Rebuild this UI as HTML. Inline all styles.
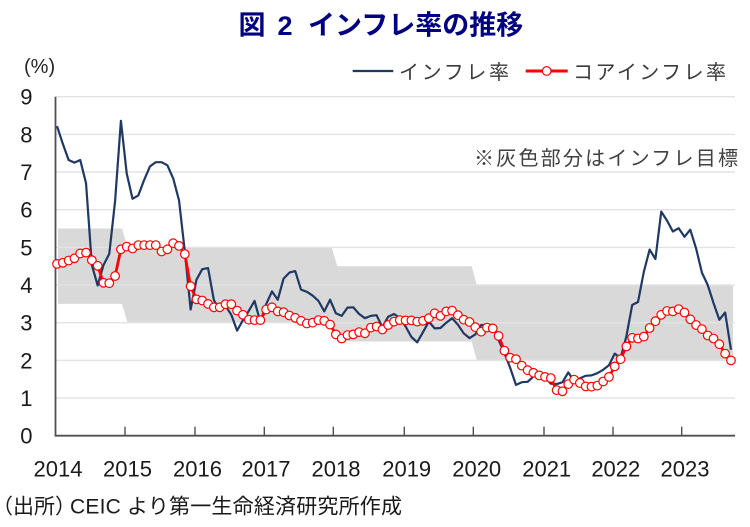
<!DOCTYPE html>
<html>
<head>
<meta charset="utf-8">
<style>
html,body{margin:0;padding:0;background:#fff;}
svg{display:block;}
.num{font-family:"Liberation Sans",sans-serif;font-size:22px;fill:#1a1a1a;}
.jp{font-family:"Liberation Sans","Noto Sans CJK JP",sans-serif;}
</style>
</head>
<body>
<svg width="750" height="527" viewBox="0 0 750 527" xmlns="http://www.w3.org/2000/svg">
<rect x="0" y="0" width="750" height="527" fill="#fff"/>

<!-- target band -->
<polygon fill="#D9D9D9" points="58,228.5 122,228.5 127.5,247.4 331.7,247.4 337.3,266.2 471.7,266.2 476.7,285 733,285 733,360.4 476.7,360.4 471.7,341.5 337.3,341.5 331.7,322.7 127.5,322.7 122,303.9 58,303.9"/>

<!-- gridlines -->
<g stroke="#E3E3E3" stroke-width="1.4">
<line x1="55.5" y1="398.0" x2="735" y2="398.0"/>
<line x1="55.5" y1="360.4" x2="735" y2="360.4"/>
<line x1="55.5" y1="322.7" x2="735" y2="322.7"/>
<line x1="55.5" y1="285.0" x2="735" y2="285.0"/>
<line x1="55.5" y1="247.4" x2="735" y2="247.4"/>
<line x1="55.5" y1="209.7" x2="735" y2="209.7"/>
<line x1="55.5" y1="172.0" x2="735" y2="172.0"/>
<line x1="55.5" y1="134.4" x2="735" y2="134.4"/>
<line x1="55.5" y1="96.7" x2="735" y2="96.7"/>
</g>

<!-- axes -->
<g stroke="#505050" stroke-width="1.8" fill="none">
<line x1="55.5" y1="96.7" x2="55.5" y2="436.5"/>
<line x1="54.6" y1="435.7" x2="735" y2="435.7"/>
</g>
<g stroke="#505050" stroke-width="1.4">
<line x1="125" y1="426.7" x2="125" y2="435.7"/>
<line x1="195" y1="426.7" x2="195" y2="435.7"/>
<line x1="264.3" y1="426.7" x2="264.3" y2="435.7"/>
<line x1="333.3" y1="426.7" x2="333.3" y2="435.7"/>
<line x1="404.3" y1="426.7" x2="404.3" y2="435.7"/>
<line x1="473.3" y1="426.7" x2="473.3" y2="435.7"/>
<line x1="544" y1="426.7" x2="544" y2="435.7"/>
<line x1="613" y1="426.7" x2="613" y2="435.7"/>
<line x1="681.7" y1="426.7" x2="681.7" y2="435.7"/>
</g>

<!-- headline inflation -->
<polyline fill="none" stroke="#1F3864" stroke-width="2.2" stroke-linejoin="round" points="57.00,126.1 62.81,143.8 68.62,160.0 74.43,162.6 80.24,160.0 86.05,183.3 91.86,265.1 97.67,285.4 103.48,265.1 109.29,253.8 115.10,201.0 120.91,120.8 126.72,173.5 132.53,198.8 138.34,195.4 144.15,179.9 149.96,166.4 155.77,162.2 161.58,162.2 167.39,165.3 173.20,178.4 179.01,200.3 184.82,251.5 190.63,309.5 196.44,279.8 202.25,269.2 208.06,268.1 213.87,300.1 219.68,310.3 225.49,305.8 231.30,314.8 237.11,330.6 242.92,320.1 248.73,311.0 254.54,300.9 260.35,322.0 266.16,304.2 271.97,291.4 277.78,299.7 283.59,278.6 289.40,272.6 295.21,271.1 301.02,289.6 306.83,291.8 312.64,295.6 318.45,300.9 324.26,311.4 330.07,299.7 335.88,313.3 341.69,315.9 347.50,307.6 353.31,307.3 359.12,314.0 364.93,318.2 370.74,315.9 376.55,315.2 382.36,327.2 388.17,316.7 393.98,314.0 399.79,317.8 405.60,326.5 411.41,337.0 417.22,342.3 423.03,332.1 428.84,321.6 434.65,328.4 440.46,328.0 446.27,322.7 452.08,318.2 457.89,324.6 463.70,333.3 469.51,338.1 475.32,334.4 481.13,325.0 486.94,325.0 492.75,325.0 498.56,340.0 504.37,352.8 510.18,367.9 515.99,384.9 521.80,382.2 527.61,381.8 533.42,376.6 539.23,372.4 545.04,377.3 550.85,383.7 556.66,384.1 562.47,382.2 568.28,372.4 574.09,381.1 579.90,378.4 585.71,375.8 591.52,375.4 597.33,373.2 603.14,369.8 608.95,365.3 614.76,353.6 620.57,358.1 626.38,336.3 632.19,305.0 638.00,302.0 643.81,271.9 649.62,249.6 655.43,259.0 661.24,211.6 667.05,220.6 672.86,231.5 678.67,228.2 684.48,236.8 690.29,229.7 696.10,248.5 701.91,272.6 707.72,285.0 713.53,303.1 719.34,319.7 725.15,312.5 730.96,349.8"/>

<!-- core inflation line -->
<polyline fill="none" stroke="#FF0000" stroke-width="2.8" stroke-linejoin="round" points="57.00,263.9 62.81,262.8 68.62,260.5 74.43,258.3 80.24,253.4 86.05,252.6 91.86,260.2 97.67,265.8 103.48,282.8 109.29,283.2 115.10,276.0 120.91,249.3 126.72,246.6 132.53,248.5 138.34,245.1 144.15,245.1 149.96,245.1 155.77,245.1 161.58,251.5 167.39,249.3 173.20,243.2 179.01,245.9 184.82,254.1 190.63,286.2 196.44,299.3 202.25,300.5 208.06,303.9 213.87,307.3 219.68,307.3 225.49,304.2 231.30,304.2 237.11,310.6 242.92,314.8 248.73,319.7 254.54,320.1 260.35,320.1 266.16,309.5 271.97,307.3 277.78,311.4 283.59,312.2 289.40,315.5 295.21,317.8 301.02,320.8 306.83,323.5 312.64,322.7 318.45,320.1 324.26,320.8 330.07,324.6 335.88,334.4 341.69,338.5 347.50,335.1 353.31,334.4 359.12,332.1 364.93,333.3 370.74,327.6 376.55,326.5 382.36,329.5 388.17,325.0 393.98,321.6 399.79,320.1 405.60,320.4 411.41,320.4 417.22,321.6 423.03,320.8 428.84,318.2 434.65,313.3 440.46,315.9 446.27,311.4 452.08,310.6 457.89,315.2 463.70,319.7 469.51,322.0 475.32,327.2 481.13,331.7 486.94,327.6 492.75,328.4 498.56,335.9 504.37,350.6 510.18,357.7 515.99,359.2 521.80,365.6 527.61,370.2 533.42,372.8 539.23,375.4 545.04,376.9 550.85,378.1 556.66,390.1 562.47,391.3 568.28,384.1 574.09,379.6 579.90,383.0 585.71,386.4 591.52,386.7 597.33,385.6 603.14,381.5 608.95,376.9 614.76,366.4 620.57,359.2 626.38,346.4 632.19,337.8 638.00,338.5 643.81,336.6 649.62,328.0 655.43,321.2 661.24,314.8 667.05,311.0 672.86,311.4 678.67,309.1 684.48,312.5 690.29,319.3 696.10,325.0 701.91,329.1 707.72,335.5 713.53,338.5 719.34,344.2 725.15,353.6 730.96,360.4"/>

<!-- markers -->
<g fill="#fff" stroke="#FF0000" stroke-width="1.2">
<circle r="4.3" cx="57.00" cy="263.9"/><circle r="4.3" cx="62.81" cy="262.8"/><circle r="4.3" cx="68.62" cy="260.5"/><circle r="4.3" cx="74.43" cy="258.3"/><circle r="4.3" cx="80.24" cy="253.4"/><circle r="4.3" cx="86.05" cy="252.6"/><circle r="4.3" cx="91.86" cy="260.2"/><circle r="4.3" cx="97.67" cy="265.8"/><circle r="4.3" cx="103.48" cy="282.8"/><circle r="4.3" cx="109.29" cy="283.2"/><circle r="4.3" cx="115.10" cy="276.0"/><circle r="4.3" cx="120.91" cy="249.3"/>
<circle r="4.3" cx="126.72" cy="246.6"/><circle r="4.3" cx="132.53" cy="248.5"/><circle r="4.3" cx="138.34" cy="245.1"/><circle r="4.3" cx="144.15" cy="245.1"/><circle r="4.3" cx="149.96" cy="245.1"/><circle r="4.3" cx="155.77" cy="245.1"/><circle r="4.3" cx="161.58" cy="251.5"/><circle r="4.3" cx="167.39" cy="249.3"/><circle r="4.3" cx="173.20" cy="243.2"/><circle r="4.3" cx="179.01" cy="245.9"/><circle r="4.3" cx="184.82" cy="254.1"/><circle r="4.3" cx="190.63" cy="286.2"/>
<circle r="4.3" cx="196.44" cy="299.3"/><circle r="4.3" cx="202.25" cy="300.5"/><circle r="4.3" cx="208.06" cy="303.9"/><circle r="4.3" cx="213.87" cy="307.3"/><circle r="4.3" cx="219.68" cy="307.3"/><circle r="4.3" cx="225.49" cy="304.2"/><circle r="4.3" cx="231.30" cy="304.2"/><circle r="4.3" cx="237.11" cy="310.6"/><circle r="4.3" cx="242.92" cy="314.8"/><circle r="4.3" cx="248.73" cy="319.7"/><circle r="4.3" cx="254.54" cy="320.1"/><circle r="4.3" cx="260.35" cy="320.1"/>
<circle r="4.3" cx="266.16" cy="309.5"/><circle r="4.3" cx="271.97" cy="307.3"/><circle r="4.3" cx="277.78" cy="311.4"/><circle r="4.3" cx="283.59" cy="312.2"/><circle r="4.3" cx="289.40" cy="315.5"/><circle r="4.3" cx="295.21" cy="317.8"/><circle r="4.3" cx="301.02" cy="320.8"/><circle r="4.3" cx="306.83" cy="323.5"/><circle r="4.3" cx="312.64" cy="322.7"/><circle r="4.3" cx="318.45" cy="320.1"/><circle r="4.3" cx="324.26" cy="320.8"/><circle r="4.3" cx="330.07" cy="324.6"/>
<circle r="4.3" cx="335.88" cy="334.4"/><circle r="4.3" cx="341.69" cy="338.5"/><circle r="4.3" cx="347.50" cy="335.1"/><circle r="4.3" cx="353.31" cy="334.4"/><circle r="4.3" cx="359.12" cy="332.1"/><circle r="4.3" cx="364.93" cy="333.3"/><circle r="4.3" cx="370.74" cy="327.6"/><circle r="4.3" cx="376.55" cy="326.5"/><circle r="4.3" cx="382.36" cy="329.5"/><circle r="4.3" cx="388.17" cy="325.0"/><circle r="4.3" cx="393.98" cy="321.6"/><circle r="4.3" cx="399.79" cy="320.1"/>
<circle r="4.3" cx="405.60" cy="320.4"/><circle r="4.3" cx="411.41" cy="320.4"/><circle r="4.3" cx="417.22" cy="321.6"/><circle r="4.3" cx="423.03" cy="320.8"/><circle r="4.3" cx="428.84" cy="318.2"/><circle r="4.3" cx="434.65" cy="313.3"/><circle r="4.3" cx="440.46" cy="315.9"/><circle r="4.3" cx="446.27" cy="311.4"/><circle r="4.3" cx="452.08" cy="310.6"/><circle r="4.3" cx="457.89" cy="315.2"/><circle r="4.3" cx="463.70" cy="319.7"/><circle r="4.3" cx="469.51" cy="322.0"/>
<circle r="4.3" cx="475.32" cy="327.2"/><circle r="4.3" cx="481.13" cy="331.7"/><circle r="4.3" cx="486.94" cy="327.6"/><circle r="4.3" cx="492.75" cy="328.4"/><circle r="4.3" cx="498.56" cy="335.9"/><circle r="4.3" cx="504.37" cy="350.6"/><circle r="4.3" cx="510.18" cy="357.7"/><circle r="4.3" cx="515.99" cy="359.2"/><circle r="4.3" cx="521.80" cy="365.6"/><circle r="4.3" cx="527.61" cy="370.2"/><circle r="4.3" cx="533.42" cy="372.8"/><circle r="4.3" cx="539.23" cy="375.4"/>
<circle r="4.3" cx="545.04" cy="376.9"/><circle r="4.3" cx="550.85" cy="378.1"/><circle r="4.3" cx="556.66" cy="390.1"/><circle r="4.3" cx="562.47" cy="391.3"/><circle r="4.3" cx="568.28" cy="384.1"/><circle r="4.3" cx="574.09" cy="379.6"/><circle r="4.3" cx="579.90" cy="383.0"/><circle r="4.3" cx="585.71" cy="386.4"/><circle r="4.3" cx="591.52" cy="386.7"/><circle r="4.3" cx="597.33" cy="385.6"/><circle r="4.3" cx="603.14" cy="381.5"/><circle r="4.3" cx="608.95" cy="376.9"/>
<circle r="4.3" cx="614.76" cy="366.4"/><circle r="4.3" cx="620.57" cy="359.2"/><circle r="4.3" cx="626.38" cy="346.4"/><circle r="4.3" cx="632.19" cy="337.8"/><circle r="4.3" cx="638.00" cy="338.5"/><circle r="4.3" cx="643.81" cy="336.6"/><circle r="4.3" cx="649.62" cy="328.0"/><circle r="4.3" cx="655.43" cy="321.2"/><circle r="4.3" cx="661.24" cy="314.8"/><circle r="4.3" cx="667.05" cy="311.0"/><circle r="4.3" cx="672.86" cy="311.4"/><circle r="4.3" cx="678.67" cy="309.1"/>
<circle r="4.3" cx="684.48" cy="312.5"/><circle r="4.3" cx="690.29" cy="319.3"/><circle r="4.3" cx="696.10" cy="325.0"/><circle r="4.3" cx="701.91" cy="329.1"/><circle r="4.3" cx="707.72" cy="335.5"/><circle r="4.3" cx="713.53" cy="338.5"/><circle r="4.3" cx="719.34" cy="344.2"/><circle r="4.3" cx="725.15" cy="353.6"/><circle r="4.3" cx="730.96" cy="360.4"/>
</g>

<!-- y labels -->
<g class="num" text-anchor="end">
<text x="32.5" y="443.7">0</text>
<text x="32.5" y="406.0">1</text>
<text x="32.5" y="368.4">2</text>
<text x="32.5" y="330.7">3</text>
<text x="32.5" y="293.0">4</text>
<text x="32.5" y="255.4">5</text>
<text x="32.5" y="217.7">6</text>
<text x="32.5" y="180.0">7</text>
<text x="32.5" y="142.4">8</text>
<text x="32.5" y="104.7">9</text>
</g>
<text x="24" y="73" font-family="Liberation Sans, sans-serif" font-size="20" fill="#262626">(%)</text>

<!-- x labels -->
<g class="num" text-anchor="middle">
<text x="58" y="476.5">2014</text>
<text x="127.5" y="476.5">2015</text>
<text x="197.5" y="476.5">2016</text>
<text x="266" y="476.5">2017</text>
<text x="336" y="476.5">2018</text>
<text x="406.7" y="476.5">2019</text>
<text x="476.7" y="476.5">2020</text>
<text x="546.7" y="476.5">2021</text>
<text x="615.8" y="476.5">2022</text>
<text x="685" y="476.5">2023</text>
</g>

<!-- title -->
<text class="jp" y="34.3" font-size="27" font-weight="bold" fill="#000080"><tspan x="238.5">図</tspan><tspan x="270" y="34.8"> 2 </tspan><tspan x="308" y="34.3">インフレ率の推移</tspan></text>

<!-- legend -->
<line x1="352.7" y1="71" x2="393.3" y2="71" stroke="#1F3864" stroke-width="2.2"/>
<text class="jp" x="399" y="79" font-size="20" fill="#3a3a3a" textLength="110" lengthAdjust="spacing">インフレ率</text>
<line x1="525.7" y1="71" x2="567.7" y2="71" stroke="#FF0000" stroke-width="3"/>
<circle cx="546.7" cy="71" r="4.3" fill="#fff" stroke="#FF0000" stroke-width="1.2"/>
<text class="jp" x="573" y="79" font-size="20" fill="#3a3a3a" textLength="153" lengthAdjust="spacing">コアインフレ率</text>

<!-- note -->
<text class="jp" x="474" y="165" font-size="20" fill="#404040" textLength="264" lengthAdjust="spacing">※灰色部分はインフレ目標</text>

<!-- source -->
<text class="jp" x="-8" y="513.5" font-size="21" fill="#1a1a1a">（出所）</text>
<text class="jp" x="70" y="513.5" font-size="21" fill="#1a1a1a" textLength="332" lengthAdjust="spacing">CEIC より第一生命経済研究所作成</text>
</svg>
</body>
</html>
